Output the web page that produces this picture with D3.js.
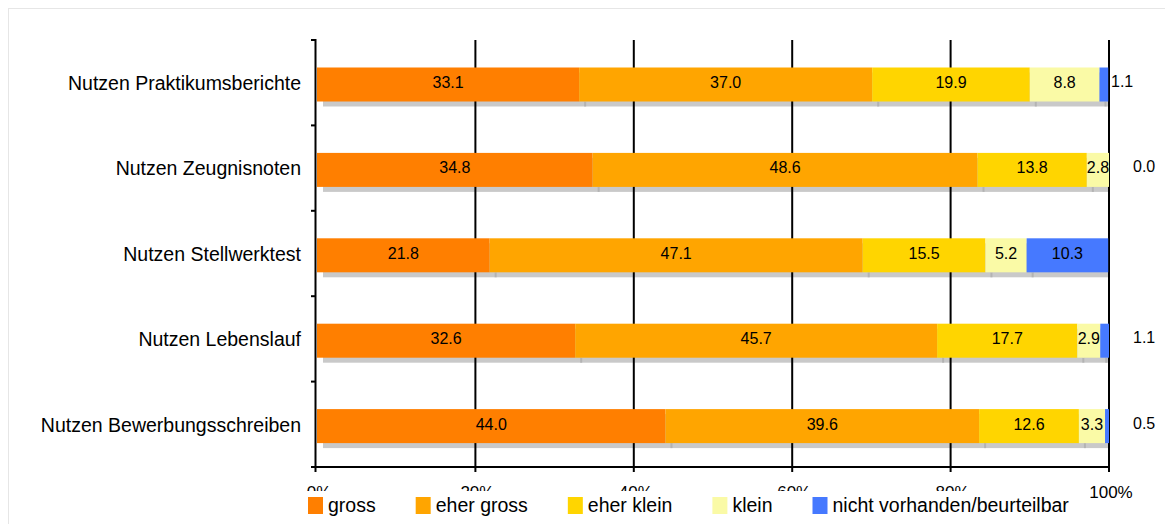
<!DOCTYPE html>
<html>
<head>
<meta charset="utf-8">
<script src="https://cdn.jsdelivr.net/npm/d3@7"></script>
<style>
  html, body { margin: 0; padding: 0; background: #fff; }
  svg { display: block; font-family: "Liberation Sans", Arial, Helvetica, sans-serif; }
</style>
</head>
<body>
<svg id="chart" width="1165" height="524"></svg>
<script>
// Survey answers: how useful each application document is (percent of respondents)
const categories = [
  "Nutzen Praktikumsberichte",
  "Nutzen Zeugnisnoten",
  "Nutzen Stellwerktest",
  "Nutzen Lebenslauf",
  "Nutzen Bewerbungsschreiben"
];
const seriesNames = ["gross", "eher gross", "eher klein", "klein", "nicht vorhanden/beurteilbar"];
const gross       = [33.1, 34.8, 21.8, 32.6, 44.0];
const eherGross   = [37.0, 48.6, 47.1, 45.7, 39.6];
const eherKlein   = [19.9, 13.8, 15.5, 17.7, 12.6];
const klein       = [8.8, 2.8, 5.2, 2.9, 3.3];
const nichtVorh   = [1.1, 0.0, 10.3, 1.1, 0.5];
const xTicks      = [0, 20, 40, 60, 80, 100];
const tickLabels  = ["0%", "20%", "40%", "60%", "80%", "100%"];

const colors = ["#ff7f00", "#ffa500", "#ffd500", "#fafaa6", "#4679ff"];

// Build rows for the stack layout
const seriesValues = [gross, eherGross, eherKlein, klein, nichtVorh];
const table = categories.map((c, i) => {
  const row = { category: c };
  seriesNames.forEach((s, k) => { row[s] = seriesValues[k][i]; });
  return row;
});
const stacked = d3.stack().keys(seriesNames)(table);

const svg = d3.select("#chart");

// light frame round the chart area
svg.append("rect")
  .attr("x", 8.5).attr("y", 8.5)
  .attr("width", 1300).attr("height", 700)
  .attr("fill", "none").attr("stroke", "#e6e6e6");

const x = d3.scaleLinear().domain([0, 100]).range([317, 1109]);
const y = d3.scaleBand().domain(categories).range([40, 467]).padding(0);
const barTop = 27.5, barH = 34;
const shadowDx = 6, shadowDy = 5;

// clip for the drop shadow so it stops at 100 %
svg.append("defs").append("clipPath").attr("id", "plotClip")
  .append("rect").attr("x", x(0)).attr("y", 30).attr("width", x(100) - x(0)).attr("height", 450);

// drop shadows
const shadowG = svg.append("g").attr("clip-path", "url(#plotClip)");
stacked.forEach(layer => {
  shadowG.selectAll(null).data(layer).enter().append("rect")
    .attr("x", d => x(d[0]) + shadowDx)
    .attr("y", d => y(d.data.category) + barTop + shadowDy)
    .attr("width", d => x(d[1]) - x(d[0]))
    .attr("height", barH)
    .attr("fill", "#c9c9c9");
});
stacked.slice(1).forEach(layer => {
  shadowG.selectAll(null).data(layer.filter(d => d[1] - d[0] > 0)).enter().append("rect")
    .attr("x", d => x(d[0]) + shadowDx - 1)
    .attr("y", d => y(d.data.category) + barTop + barH)
    .attr("width", 2)
    .attr("height", shadowDy)
    .attr("fill", "#b3b3b3");
});

// vertical gridlines
svg.append("g").selectAll("line").data(xTicks.slice(1)).enter().append("line")
  .attr("x1", d => x(d)).attr("x2", d => x(d))
  .attr("y1", 40).attr("y2", 467)
  .attr("stroke", "#000").attr("stroke-width", 2);

// stacked bar segments
const barG = svg.append("g");
stacked.forEach((layer, k) => {
  barG.selectAll(null).data(layer).enter().append("rect")
    .attr("x", d => x(d[0]))
    .attr("y", d => y(d.data.category) + barTop)
    .attr("width", d => x(d[1]) - x(d[0]))
    .attr("height", barH)
    .attr("fill", colors[k]);
});

// value labels: inside the segment, or beside the bar when the segment is tiny
const outsideShift = [2, 24, 24, 24, 24];
const labelG = svg.append("g").attr("font-size", 16).attr("fill", "#000");
stacked.forEach(layer => {
  layer.forEach((d, i) => {
    const v = d[1] - d[0];
    const inside = v >= 2;
    labelG.append("text")
      .attr("x", inside ? (x(d[0]) + x(d[1])) / 2 : x(100) + outsideShift[i])
      .attr("y", y(d.data.category) + barTop + (inside ? 20.5 : 19.5))
      .attr("text-anchor", inside ? "middle" : "start")
      .text(d.data[layer.key].toFixed(1));
  });
});

// y axis
const yAxisG = svg.append("g");
yAxisG.append("line")
  .attr("x1", 315.5).attr("x2", 315.5).attr("y1", 39).attr("y2", 468)
  .attr("stroke", "#000").attr("stroke-width", 2);
const yBounds = categories.map(c => y(c)).concat([y.range()[1]]);
yAxisG.selectAll("line.tick").data(yBounds).enter().append("line")
  .attr("class", "tick")
  .attr("x1", 311).attr("x2", 316)
  .attr("y1", d => d).attr("y2", d => d)
  .attr("stroke", "#000").attr("stroke-width", 2);
yAxisG.selectAll("text").data(categories).enter().append("text")
  .attr("x", 301)
  .attr("y", d => y(d) + barTop + 22.5)
  .attr("text-anchor", "end")
  .attr("font-size", 19.5)
  .attr("fill", "#000")
  .text(d => d);

// x axis
const xAxisG = svg.append("g");
xAxisG.append("line")
  .attr("x1", 314.5).attr("x2", 1110).attr("y1", 467).attr("y2", 467)
  .attr("stroke", "#000").attr("stroke-width", 2);
xAxisG.selectAll("line.tick").data(xTicks).enter().append("line")
  .attr("class", "tick")
  .attr("x1", d => x(d) - (d === 0 ? 1.5 : 0)).attr("x2", d => x(d) - (d === 0 ? 1.5 : 0))
  .attr("y1", 467).attr("y2", 472)
  .attr("stroke", "#000").attr("stroke-width", 2);
xAxisG.selectAll("text").data(xTicks).enter().append("text")
  .attr("x", d => x(d) + 2)
  .attr("y", 498)
  .attr("text-anchor", "middle")
  .attr("font-size", 17)
  .attr("fill", "#000")
  .text((d, i) => tickLabels[i]);

// legend on a white panel
const legend = svg.append("g");
legend.append("rect")
  .attr("x", 300).attr("y", 491).attr("width", 790).attr("height", 40)
  .attr("fill", "#fff");
let lx = 308;
seriesNames.forEach((name, k) => {
  legend.append("rect")
    .attr("x", lx).attr("y", 497).attr("width", 15).attr("height", 17)
    .attr("fill", colors[k]);
  const t = legend.append("text")
    .attr("x", lx + 20).attr("y", 512)
    .attr("font-size", 19.5)
    .attr("fill", "#000")
    .text(name);
  lx += 20 + t.node().getComputedTextLength() + 40;
});
</script>
</body>
</html>
